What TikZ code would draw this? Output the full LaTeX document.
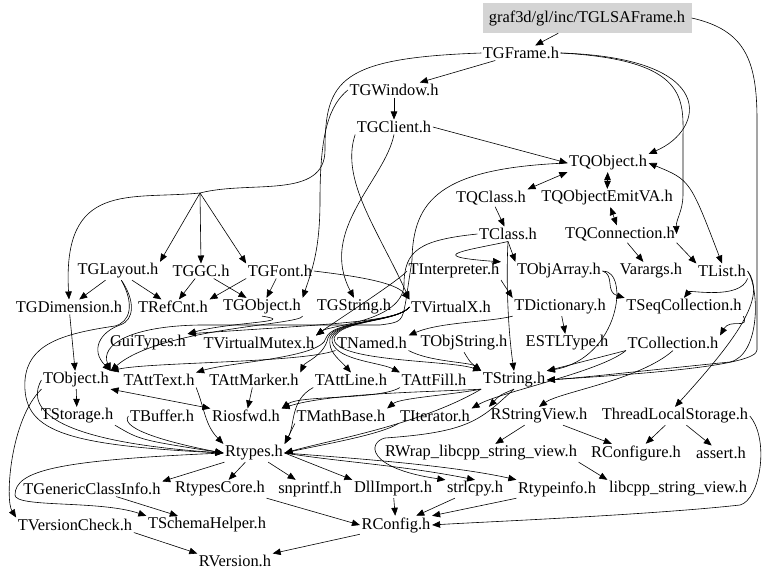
\documentclass[tikz,border=0pt]{standalone}
\usepackage{fontspec}
\setmainfont{Liberation Serif}
\usetikzlibrary{arrows.meta}
\begin{document}
\begin{tikzpicture}[x=1pt,y=-1pt,
  lbl/.style={font=\fontsize{16.4}{16}\selectfont, inner sep=1.5pt, anchor=center},
  edg/.style={draw, line width=0.6pt, -{Triangle[length=8pt,width=6.5pt]}},
  edd/.style={draw, line width=0.6pt, {Triangle[length=8pt,width=6.5pt]}-{Triangle[length=8pt,width=6.5pt]}}]
\useasboundingbox[fill=white] (0,0) rectangle (768,579);
% nodes
\node[lbl, fill=black!17, minimum width=209pt, minimum height=30pt] (glsa) at (587,18) {graf3d/gl/inc/TGLSAFrame.h};
\node[lbl] (tgframe) at (521,53) {TGFrame.h};
\node[lbl] (tgwindow) at (394,90) {TGWindow.h};
\node[lbl] (tgclient) at (394,127) {TGClient.h};
\node[lbl] (tqobject) at (608,163) {TQObject.h};
\node[lbl] (tqclass) at (491,198) {TQClass.h};
\node[lbl] (tqemit) at (607,198) {TQObjectEmitVA.h};
\node[lbl] (tclass) at (508,234) {TClass.h};
\node[lbl] (tqconn) at (620,234) {TQConnection.h};
\node[lbl] (tglayout) at (118,271) {TGLayout.h};
\node[lbl] (tggc) at (201,271) {TGGC.h};
\node[lbl] (tgfont) at (280,271) {TGFont.h};
\node[lbl] (tinterp) at (454,271) {TInterpreter.h};
\node[lbl] (tobjarray) at (559,271) {TObjArray.h};
\node[lbl] (varargs) at (651,271) {Varargs.h};
\node[lbl] (tlist) at (722,271) {TList.h};
\node[lbl] (tgdim) at (69,307) {TGDimension.h};
\node[lbl] (trefcnt) at (173,307) {TRefCnt.h};
\node[lbl] (tgobject) at (262,307) {TGObject.h};
\node[lbl] (tgstring) at (354,307) {TGString.h};
\node[lbl] (tvx) at (451,307) {TVirtualX.h};
\node[lbl] (tdict) at (560,307) {TDictionary.h};
\node[lbl] (tseq) at (684,307) {TSeqCollection.h};
\node[lbl] (gui) at (148,343) {GuiTypes.h};
\node[lbl] (tvmutex) at (259,343) {TVirtualMutex.h};
\node[lbl] (tnamed) at (372,343) {TNamed.h};
\node[lbl] (tobjstring) at (464,343) {TObjString.h};
\node[lbl] (estl) at (567,343) {ESTLType.h};
\node[lbl] (tcoll) at (673,343) {TCollection.h};
\node[lbl] (tobject) at (76,380) {TObject.h};
\node[lbl] (tatttext) at (159,380) {TAttText.h};
\node[lbl] (tattmarker) at (254,380) {TAttMarker.h};
\node[lbl] (tattline) at (351,380) {TAttLine.h};
\node[lbl] (tattfill) at (434,380) {TAttFill.h};
\node[lbl] (tstring) at (514,380) {TString.h};
\node[lbl] (tstorage) at (77,416) {TStorage.h};
\node[lbl] (tbuffer) at (162,416) {TBuffer.h};
\node[lbl] (riosfwd) at (246,416) {Riosfwd.h};
\node[lbl] (tmath) at (341,416) {TMathBase.h};
\node[lbl] (titer) at (435,416) {TIterator.h};
\node[lbl] (rsv) at (539,416) {RStringView.h};
\node[lbl] (tls) at (675,416) {ThreadLocalStorage.h};
\node[lbl] (rtypes) at (254,453) {Rtypes.h};
\node[lbl] (rwrap) at (481,453) {RWrap\_libcpp\_string\_view.h};
\node[lbl] (rconfigure) at (636,453) {RConfigure.h};
\node[lbl] (assert) at (721,453) {assert.h};
\node[lbl] (tgci) at (92,489) {TGenericClassInfo.h};
\node[lbl] (rtcore) at (220,489) {RtypesCore.h};
\node[lbl] (snprintf) at (310,489) {snprintf.h};
\node[lbl] (dllimport) at (393,489) {DllImport.h};
\node[lbl] (strlcpy) at (475,489) {strlcpy.h};
\node[lbl] (rtypeinfo) at (557,489) {Rtypeinfo.h};
\node[lbl] (libcpp) at (678,489) {libcpp\_string\_view.h};
\node[lbl] (tvc) at (75,525) {TVersionCheck.h};
\node[lbl] (tschema) at (207,525) {TSchemaHelper.h};
\node[lbl] (rconfig) at (396,525) {RConfig.h};
\node[lbl] (rversion) at (235,561) {RVersion.h};
% top edges
\draw[edg] (glsa) -- (tgframe);
\draw[edg] (glsa.east) .. controls (745,30) and (757,60) .. (757,120) -- (757,350) .. controls (757,366) and (640,374) .. (tstring.east);
\draw[edg] (tgframe) -- (tgwindow);
\draw[edg] (tgframe.east) .. controls (720,58) and (705,130) .. (tqobject.north east);
\draw[edg] (tgframe.east) .. controls (690,60) and (683,100) .. (683,140) -- (683,195) .. controls (683,210) and (676,220) .. (tqconn.east);
\draw[edg] (tgframe.west) .. controls (340,58) and (325,80) .. (325,150) .. controls (325,200) and (250,180) .. (200,193) .. controls (130,200) and (62,180) .. (tgdim.north);
\draw[edg] (200,193) -- (tglayout.north east);
\draw[edg] (200,193) -- (tggc.north);
\draw[edg] (200,193) -- (tgfont.north west);
\draw[edg] (tgwindow) -- (tgclient);
\draw[edg] (tgwindow.west) .. controls (330,105) and (320,130) .. (320,200) .. controls (320,250) and (312,270) .. (tgobject.north east);
\draw[edg] (tgclient.south) .. controls (385,180) and (318,230) .. (tgstring.north);
\draw[edg] (tgclient.south west) .. controls (340,180) and (378,230) .. (tvx.north west);
\draw[edg] (tgclient.east) -- (tqobject.west);
\draw[edd] (tqobject.south west) -- (tqclass.north east);
\draw[edd] (tqobject) -- (tqemit);
\draw[edd] (tqemit) -- (tqconn);
\draw[edd] (tqobject.east) .. controls (690,180) .. (tlist.north);
\draw[edg] (tqclass) -- (tclass);
\draw[edg] (tqconn) -- (varargs);
\draw[edg] (tqconn.south east) -- (tlist.north west);
\draw[edg] (tqobject.west) .. controls (440,168) and (413,200) .. (412,260) -- (406,300) .. controls (402,322) .. (380,325) -- (200,325) .. controls (130,326) and (100,345) .. (tobject.north east);
\draw[edg] (tclass.west) .. controls (420,240) and (404,250) .. (404,285) .. controls (402,322) and (330,325) .. (tvmutex.north east);
\draw[edg] (tclass.south) -- (tobjarray.north west);
\draw[edg] (tclass.south) .. controls (470,250) and (420,256) .. (tinterp.north east);
\draw[edg] (tclass.south) .. controls (506,280) and (508,330) .. (tstring.north);
% middle
\draw[edg] (tglayout) -- (tgdim);
\draw[edg] (tglayout) -- (trefcnt);
\draw[edg] (tglayout.-70) .. controls (135,300) and (135,320) .. (120,325) .. controls (100,332) and (90,350) .. (tobject.north east);
\draw[edg] (tglayout.-70) .. controls (135,305) and (130,322) .. (115,326) .. controls (60,334) and (28,345) .. (25,380) .. controls (22,430) and (60,445) .. (rtypes.west);
\draw[edg] (tggc) -- (trefcnt);
\draw[edg] (tggc) -- (tgobject);
\draw[edg] (tgfont.south west) -- (trefcnt.north east);
\draw[edg] (tgfont) -- (tgobject);
\draw[edg] (tgfont.east) .. controls (355,276) and (395,282) .. (tvx.north west);
\draw[edg] (tgdim) -- (tobject);
\draw[edg] (tgobject.south) .. controls (300,322) and (230,322) .. (gui.north east);
\draw[edg] (tgobject.south east) .. controls (300,325) and (160,328) .. (tobject.north east);
\draw[edg] (tvx.west) .. controls (398,322) and (330,324) .. (gui.north east);
\draw[edg] (tvx.west) .. controls (398,322) and (332,320) .. (326,338) .. controls (322,358) and (230,362) .. (tatttext.north east);
\draw[edg] (tvx.west) .. controls (398,322) and (334,320) .. (328,338) .. controls (324,356) and (305,362) .. (tattmarker.north east);
\draw[edg] (tvx.west) .. controls (398,322) and (336,320) .. (330,338) .. controls (328,352) and (338,358) .. (tattline.north);
\draw[edg] (tvx.west) .. controls (398,322) and (338,320) .. (332,338) .. controls (330,360) and (380,362) .. (tattfill.north west);
\draw[edg] (tvx.west) .. controls (398,322) and (340,320) .. (334,338) .. controls (332,362) and (450,360) .. (tstring.north west);
\draw[edg] (tinterp.south east) -- (tdict.north west);
\draw[edg] (tinterp.west) .. controls (400,280) and (330,325) .. (tvmutex.north east);
\draw[edg] (tdict.south west) .. controls (490,322) and (440,322) .. (tnamed.north east);
\draw[edg] (tdict) -- (estl);
\draw[edg] (tobjarray.east) .. controls (615,275) and (605,292) .. (tseq.north west);
\draw[edg] (tobjarray.east) .. controls (630,270) and (620,358) .. (tstring.north east);
\draw[edg] (tlist.south east) .. controls (740,300) and (690,290) .. (tseq.north);
\draw[edg] (tseq.south east) .. controls (750,330) and (730,318) .. (tcoll.north east);
\draw[edg] (tlist.east) .. controls (765,295) and (745,330) .. (tls.north);
\draw[edg] (tlist.east) .. controls (760,290) and (760,355) .. (730,362) .. controls (650,370) and (580,378) .. (tstring.east);
\draw[edg] (tnamed.south west) .. controls (300,363) and (150,362) .. (tobject.north east);
\draw[edg] (tnamed.south east) .. controls (430,362) and (470,362) .. (tstring.north west);
\draw[edg] (tobjstring.south) .. controls (470,362) .. (tstring.north west);
\draw[edg] (tcoll.south west) -- (tstring.north east);
\draw[edg] (tcoll.south west) .. controls (600,372) and (500,392) .. (titer.north east);
\draw[edg] (tcoll.south) .. controls (640,380) and (560,392) .. (rsv.north);
% lower
\draw[edg] (tstring.south) .. controls (500,395) .. (rsv.north west);
\draw[edg] (tstring.south west) .. controls (430,392) and (330,393) .. (riosfwd.north east);
\draw[edg] (tstring.south west) .. controls (420,425) and (330,440) .. (rtypes.east);
\draw[edg] (tstring.south) .. controls (480,420) and (470,432) .. (385,438) .. controls (368,442) and (365,468) .. (strlcpy.north west);
\draw[edg] (tstring.south west) .. controls (450,395) and (400,398) .. (tmath.north east);
\draw[edd] (tobject.south east) -- (riosfwd.north west);
\draw[edg] (tobject) -- (tstorage);
\draw[edg] (tobject.west) .. controls (30,400) and (30,440) .. (rtypes.west);
\draw[edg] (tobject.south west) .. controls (10,420) and (5,500) .. (tvc.north west);
\draw[edg] (tstorage.south east) .. controls (140,440) .. (rtypes.west);
\draw[edg] (tbuffer.west) .. controls (118,430) and (180,445) .. (rtypes.west);
\draw[edg] (tatttext.south east) .. controls (205,410) and (205,425) .. (rtypes.north west);
\draw[edg] (tattmarker) -- (riosfwd);
\draw[edg] (tattline.south west) .. controls (290,400) and (295,425) .. (rtypes.north east);
\draw[edg] (tattfill.south west) .. controls (380,400) and (300,395) .. (riosfwd.north east);
\draw[edg] (tmath.south west) -- (rtypes.north east);
\draw[edg] (titer.south west) .. controls (380,435) and (320,445) .. (rtypes.east);
\draw[edg] (rtypes) -- (tgci.north east);
\draw[edg] (rtypes) -- (rtcore);
\draw[edg] (rtypes) -- (snprintf);
\draw[edg] (rtypes.east) -- (dllimport.north west);
\draw[edg] (rtypes.east) .. controls (340,462) and (400,465) .. (strlcpy.north);
\draw[edg] (rtypes.east) .. controls (350,458) and (450,465) .. (rtypeinfo.north west);
\draw[edg] (rtypes.west) .. controls (60,460) and (15,470) .. (15,495) .. controls (15,508) and (100,500) .. (tschema.north west);
\draw[edg] (tgci) -- (tschema);
\draw[edg] (rsv) -- (rwrap);
\draw[edg] (rsv) -- (rconfigure);
\draw[edg] (rwrap.south east) -- (libcpp.north west);
\draw[edg] (tls) -- (rconfigure);
\draw[edg] (tls) -- (assert);
\draw[edg] (tls.east) .. controls (770,440) and (760,500) .. (740,505) .. controls (650,515) and (480,522) .. (rconfig.east);
\draw[edg] (rtcore.south east) -- (rconfig.west);
\draw[edg] (dllimport) -- (rconfig);
\draw[edg] (strlcpy) -- (rconfig);
\draw[edg] (rtypeinfo.south west) -- (rconfig.north east);
\draw[edg] (tvc.south east) -- (rversion.north west);
\draw[edg] (rconfig.south west) -- (rversion.north east);
\end{tikzpicture}
\end{document}
